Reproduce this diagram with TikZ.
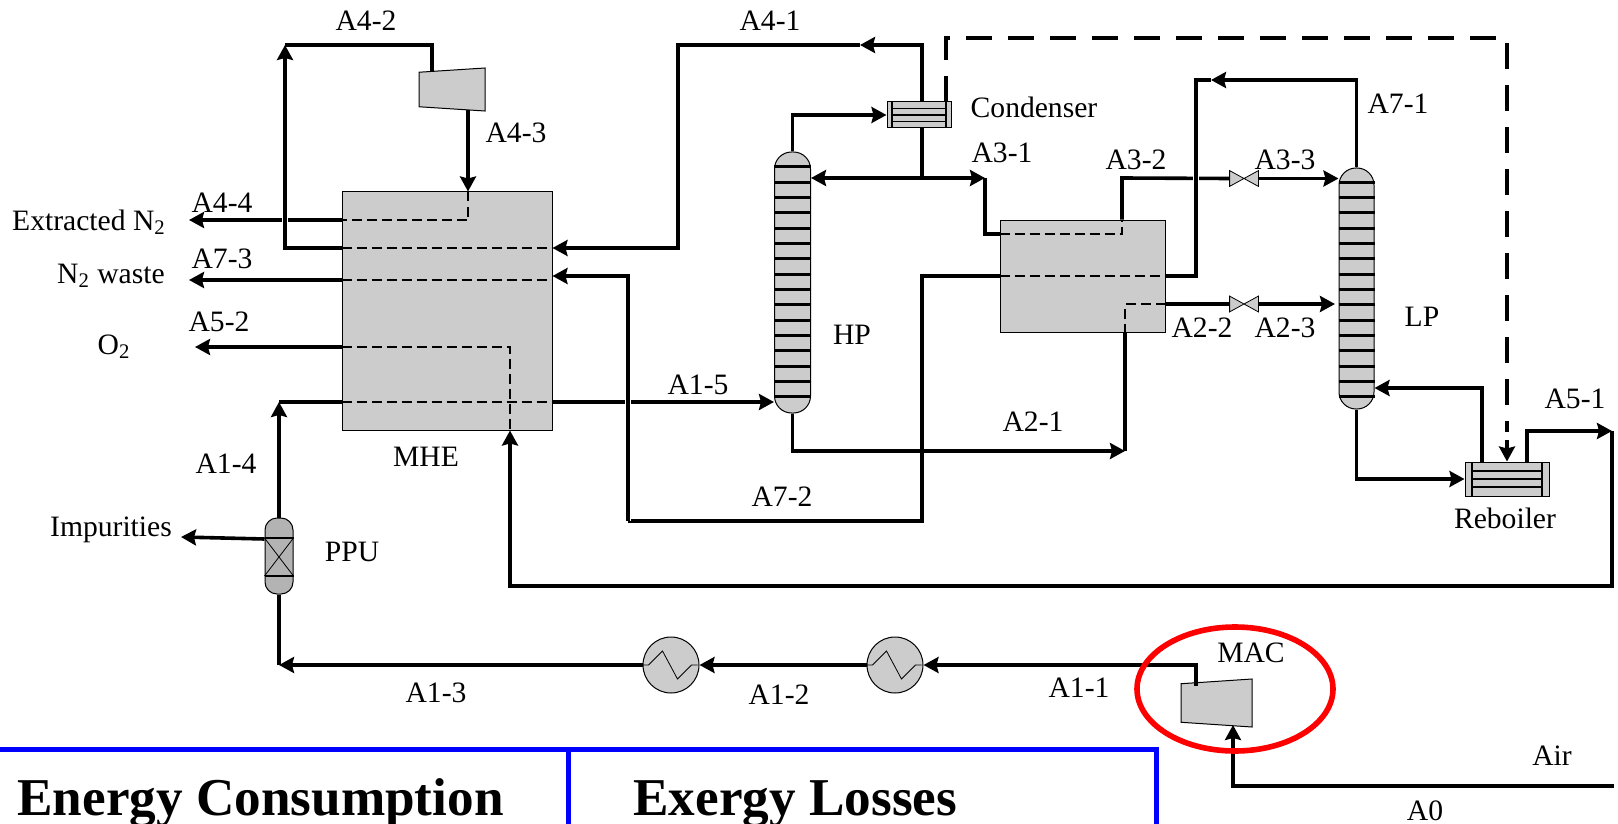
\documentclass[tikz,border=0pt]{standalone}
\usepackage{xcolor}
\usepackage{fontspec}
\setmainfont{Liberation Serif}
\usepackage{tikz}
\usetikzlibrary{shapes.geometric, arrows.meta, positioning, calc}
\definecolor{blockgray}{HTML}{CCCCCC}
\definecolor{ppugray}{HTML}{B3B3B3}
\tikzstyle{stream} = [line width=1.8pt]
\tikzstyle{arrow} = [line width=1.8pt,->,>={Stealth[length=7.5pt,width=8pt,inset=1pt]}]
\tikzstyle{halo} = [preaction={draw=white,line width=3.2pt,-}]
\tikzstyle{passage} = [line width=0.6pt, dash pattern=on 5pt off 2.5pt]
\tikzstyle{utility} = [line width=1.7pt, dash pattern=on 13pt off 8pt]
\tikzstyle{block} = [rectangle, draw=black, line width=0.5pt, fill=blockgray, inner sep=0pt]
\tikzstyle{column} = [block, rounded corners=8.5pt]
\tikzstyle{cooler} = [block, circle, minimum size=28pt]
\tikzstyle{turbo} = [draw=black, line width=0.5pt, fill=blockgray, inner sep=1pt, trapezium, shape border rotate=90, trapezium stretches=true]
\tikzstyle{valve} = [rectangle, inner sep=0pt, minimum width=14pt, minimum height=7.5pt]
\tikzstyle{tray} = [line width=1.5pt]
\tikzstyle{tube} = [line width=0.8pt]
\tikzstyle{lbl} = [inner sep=0pt, font=\fontsize{14.8}{16}\selectfont]
\tikzstyle{headline} = [inner sep=0pt, anchor=base west, font=\fontsize{26.6}{28}\selectfont\bfseries]
\begin{document}
\begin{tikzpicture}[x=0.5pt, y=-0.5pt]
    \useasboundingbox (0,0) rectangle (1618,824);

    % Equipos
    \node (mhe) [block, minimum width=105pt, minimum height=119pt] at (447,311) {};
    \node (hxb) [block, minimum width=82.5pt, minimum height=56pt] at (1082.5,276) {};
    \node (hp) [column, minimum width=18pt, minimum height=130.5pt] at (792.5,282.5) {};
    \node (lp) [column, minimum width=17.5pt, minimum height=120.5pt] at (1356.5,288.5) {};
    \node (ppu) [column, fill=ppugray, rounded corners=6pt, minimum width=14pt, minimum height=38pt] at (279,556) {};
    \node (cond) [block, minimum width=32pt, minimum height=13pt] at (919,115) {};
    \node (reb) [block, minimum width=42pt, minimum height=17pt] at (1507,479) {};
    \node (cool1) [cooler] at (895,665) {};
    \node (cool2) [cooler] at (671,665) {};
    \node (exp) [turbo, trapezium angle=83, minimum width=21.5pt, minimum height=33pt] at (452,89.5) {};
    \node (mac) [turbo, trapezium angle=83, minimum width=24pt, minimum height=35.5pt] at (1216.5,703) {};
    \node (val3) [valve] at (1244,178.5) {};
    \node (val2) [valve] at (1244,304) {};

    % Puntos libres
    \coordinate (airin) at (1614,786);
    \coordinate (macin) at (1233,725);
    \coordinate (macout) at (1196,686);
    \coordinate (expin) at (432,72);
    \coordinate (expout) at (468,110);
    \coordinate (n2out) at (189,220);
    \coordinate (wasteout) at (189,280);
    \coordinate (o2out) at (195,347);
    \coordinate (impout) at (181,537);
    \coordinate (condtop) at (922,102);
    \coordinate (condbot) at (922,128);
    \coordinate (condcw) at (946,102);
    \coordinate (jn) at (922,178);
    \coordinate (a31) at (985,178);
    \coordinate (a21) at (1125,451);
    \coordinate (lpin) at (1335,304);
    \coordinate (rebout) at (1527,462);
    \coordinate (rebup) at (1482,462);
    \coordinate (a51) at (1612,431);

    % Bandejas
    \foreach \y in {167,182.33,...,398}
        \draw [tray] (hp.west |- 0,\y) -- (hp.east |- 0,\y);
    \foreach \y in {182.33,197.66,...,398}
        \draw [tray] (lp.west |- 0,\y) -- (lp.east |- 0,\y);

    % Internos
    \foreach \y in {108.5,115,121.5}
        \draw [tube] (892,\y) -- (946,\y);
    \draw [tube] (892,102) -- (892,128);
    \draw [tube] (946,102) -- (946,128);
    \foreach \y in {471,479,487}
        \draw [tube] (1472,\y) -- (1542,\y);
    \draw [tube] (1472,462) -- (1472,496);
    \draw [tube] (1542,462) -- (1542,496);
    \draw [tube] (ppu.west |- 0,538) -- (ppu.east |- 0,538);
    \draw [tube] (ppu.west |- 0,576) -- (ppu.east |- 0,576);
    \draw (ppu.west |- 0,538) -- (ppu.east |- 0,576);
    \draw (ppu.east |- 0,538) -- (ppu.west |- 0,576);
    \foreach \c in {cool1,cool2}
        \draw (\c.west) -- ++(6,0) -- ++(14,-14) -- ++(15,28) -- ++(14,-14) -- ++(6,0);
    \foreach \v in {val3,val2}
        \draw [fill=blockgray] (\v.north west) -- (\v.south east) -- (\v.north east) -- (\v.south west) -- cycle;

    % Pasos por intercambiadores
    \draw [passage] (mhe.north -| expout) -- (expout |- 0,220) -- (mhe.west |- 0,220);
    \draw [passage] (mhe.west |- 0,248) -- (mhe.east |- 0,248);
    \draw [passage] (mhe.west |- 0,280) -- (mhe.east |- 0,280);
    \draw [passage] (mhe.west |- 0,347) -- (510,347) -- (mhe.south -| 510,0);
    \draw [passage] (mhe.west |- 0,402) -- (mhe.east |- 0,402);
    \draw [passage] (hxb.west |- 0,234) -- (1122,234) -- (hxb.north -| 1122,0);
    \draw [passage] (hxb.west |- 0,276) -- (hxb.east |- 0,276);
    \draw [passage] (hxb.east |- 0,304) -- (1125,304) -- (hxb.south -| a21);

    % Aire
    \draw [arrow] (airin) -| (macin);
    \draw [arrow] (macout) |- (cool1.east);
    \draw [arrow] (cool1.west) -- (cool2.east);
    \draw [arrow] (cool2.west) -- (ppu.south |- cool2.west);
    \draw [stream] (ppu.south |- cool2.west) -- (ppu.south);
    \draw [arrow] (ppu.north) -- (ppu.north |- 0,402);
    \draw [stream] (ppu.north |- 0,402) -- (mhe.west |- 0,402);
    \draw [arrow] (mhe.east |- 0,402) -- (hp.west |- 0,402);
    \draw [arrow] (ppu.west |- 0,539) -- (impout);

    % Columna HP
    \draw [arrow] (hp.north) |- (cond.west);
    \draw [stream] (condbot) -- (jn);
    \draw [arrow, <->] (hp.east |- jn) -- (a31);
    \draw [stream] (a31) |- (hxb.west |- 0,234);
    \draw [stream] (hxb.north -| 1122,0) -- (1122,178) -- (val3.west);
    \draw [arrow] (val3.east) -- (lp.west |- val3.east);
    \draw [arrow] (hp.south) |- (a21);
    \draw [stream] (a21) -- (hxb.south -| a21);
    \draw [stream] (hxb.east |- 0,304) -- (val2.west);
    \draw [arrow] (val2.east) -- (lpin);

    % Nitrogeno
    \draw [arrow] (condtop) |- (860,45);
    \draw [arrow] (860,45) -| (678,248) -- (mhe.east |- 0,248);
    \draw [arrow] (mhe.west |- 0,220) -- (n2out);
    \draw [arrow, halo] (mhe.west |- 0,248) -| (285,45);
    \draw [stream] (285,45) -| (expin);
    \draw [arrow] (expout) -- (mhe.north -| expout);

    % Residuo
    \draw [arrow] (lp.north) |- (1211,80);
    \draw [stream, halo] (1211,80) -| (1196,276) -- (hxb.east |- 0,276);
    \draw [stream] (hxb.west |- 0,276) -| (922,521) -- (628,521);
    \draw [arrow, halo] (628,521) -- (628,276) -- (mhe.east |- 0,276);
    \draw [arrow] (mhe.west |- 0,280) -- (wasteout);

    % Oxigeno
    \draw [arrow] (lp.south) |- (reb.west);
    \draw [arrow] (rebup) |- (lp.east |- 0,388);
    \draw [arrow] (rebout) |- (a51);
    \draw [arrow] (a51) |- (510,586) -- (mhe.south -| 510,0);
    \draw [arrow] (mhe.west |- 0,347) -- (o2out);

    % Linea de servicio
    \draw [utility] (condcw) |- (1507,38) -- (1507,432);
    \draw [arrow] (1507,440) -- (reb.north);

    % Tabla
    \coordinate (tabl) at (0,749);
    \coordinate (tabr) at (1156,749);
    \coordinate (tabm) at (568,749);
    \draw [blue, line width=2.5pt] (tabl) -- (tabr) -- (tabr |- 0,830);
    \draw [blue, line width=2.5pt] (tabm) -- (tabm |- 0,830);
    \node (energy) [headline] at (17,815) {Energy Consumption};
    \node (exergy) [headline] at (633,815) {Exergy Losses};

    % Marca
    \node (ring) [ellipse, draw=red, line width=2.8pt, minimum width=98pt, minimum height=62pt] at (1235,689) {};

    % Etiquetas
    \node (la42) [lbl] at (366,21) {A4-2};
    \node (la41) [lbl] at (770,21) {A4-1};
    \node (la43) [lbl] at (516,133) {A4-3};
    \node (la44) [lbl] at (222,203) {A4-4};
    \node (lext) [lbl] at (89,222) {Extracted N\textsubscript{2}};
    \node (la73) [lbl] at (222,259) {A7-3};
    \node (lwas) [lbl] at (111,276) {N\textsubscript{2} waste};
    \node (la52) [lbl] at (219,322) {A5-2};
    \node (lo2) [lbl] at (114,347) {O\textsubscript{2}};
    \node (la15) [lbl] at (698,385) {A1-5};
    \node (lcon) [lbl] at (1034,107) {Condenser};
    \node (la31) [lbl] at (1002,153) {A3-1};
    \node (la32) [lbl] at (1136,160) {A3-2};
    \node (la33) [lbl] at (1285,160) {A3-3};
    \node (la71) [lbl] at (1398,104) {A7-1};
    \node (la22) [lbl] at (1202,328) {A2-2};
    \node (la23) [lbl] at (1285,328) {A2-3};
    \node (lhp) [lbl] at (852,335) {HP};
    \node (llp) [lbl] at (1422,317) {LP};
    \node (la51) [lbl] at (1575,399) {A5-1};
    \node (la21) [lbl] at (1033,422) {A2-1};
    \node (la72) [lbl] at (782,497) {A7-2};
    \node (lreb) [lbl] at (1505,518) {Reboiler};
    \node (lmac) [lbl] at (1251,653) {MAC};
    \node (la11) [lbl] at (1079,688) {A1-1};
    \node (la12) [lbl] at (779,695) {A1-2};
    \node (la13) [lbl] at (436,693) {A1-3};
    \node (la14) [lbl] at (226,464) {A1-4};
    \node (lmhe) [lbl] at (426,457) {MHE};
    \node (limp) [lbl] at (111,530) {Impurities};
    \node (lppu) [lbl] at (352,552) {PPU};
    \node (lair) [lbl] at (1552,756) {Air};
    \node (la0) [lbl] at (1425,811) {A0};
\end{tikzpicture}
\end{document}
